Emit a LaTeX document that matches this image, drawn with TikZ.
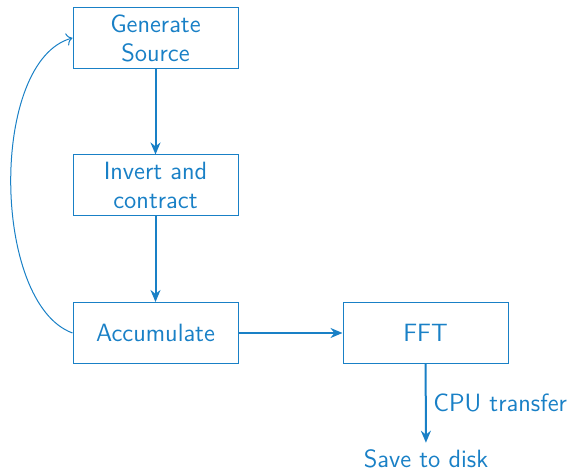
\documentclass[tikz,border=0pt]{standalone}
\usepackage{amsmath}
\usepackage{tikz}
\usetikzlibrary{arrows.meta}
\definecolor{flowblue}{RGB}{25,128,198}

\begin{document}
\begin{tikzpicture}[x=0.5pt,y=0.5pt]
	\tikzstyle{every node}+=[font=\sffamily\fontsize{12.5}{14.5}\selectfont,text=flowblue]
	\tikzstyle{stagebox}=[draw=flowblue,line width=0.5pt,minimum width=82.5pt,minimum height=30.5pt,align=center]
	\tikzstyle{flowarrow}=[draw=flowblue,line width=1pt,-{Stealth[length=6pt,width=5pt]}]
	\useasboundingbox (0,0) rectangle (569,470);
	\node [stagebox] (gen) at (155.5,432) {Generate\\Source};
	\node [stagebox] (inv) at (155.5,284.5) {Invert and\\contract};
	\node [stagebox] (acc) at (155.5,137) {Accumulate};
	\node [stagebox] (fft) at (425.5,137) {FFT};
	\node (disk) at (426,11) {Save to disk};
	\draw [flowarrow] (gen) -- (inv);
	\draw [flowarrow] (inv) -- (acc);
	\draw [flowarrow] (acc) -- (fft);
	\draw [flowarrow] (fft) -- node [right] {CPU transfer} (disk);
	\draw [flowblue,line width=0.5pt,-{To[length=3pt]}] (acc.west) to [out=160,in=195,looseness=0.75] (gen.west);
\end{tikzpicture}
\end{document}
